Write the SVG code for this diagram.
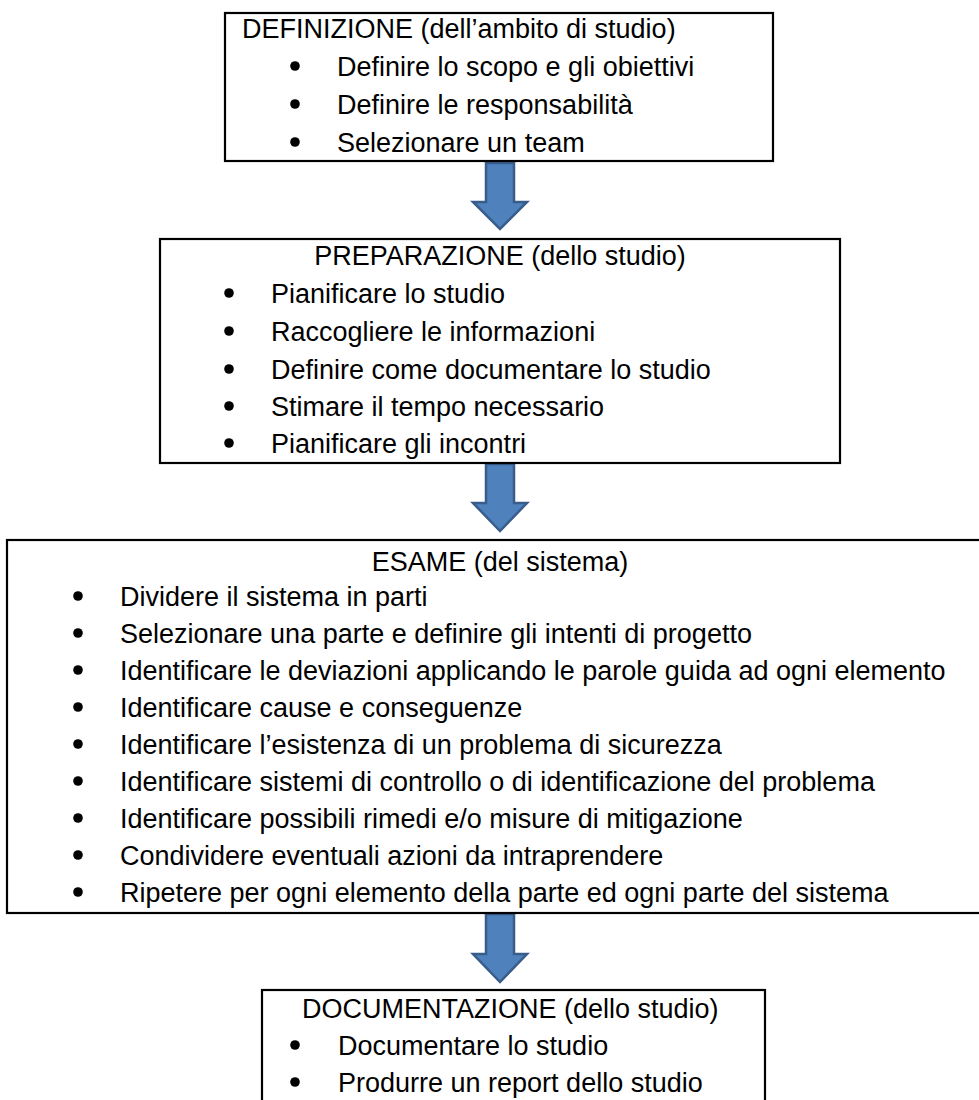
<svg xmlns="http://www.w3.org/2000/svg" width="979" height="1100" viewBox="0 0 979 1100">
<style>
.box{fill:#fff;stroke:#000;stroke-width:2.2}
.t{font-family:"Liberation Sans",Arial,sans-serif;font-size:27px;fill:#000}
.b{fill:#000}
.arr{fill:#4F81BD;stroke:#385D8A;stroke-width:2.5;stroke-linejoin:miter}
</style>
<rect width="979" height="1100" fill="#fff"/>
<g id="connectors">
<polygon class="arr" points="486,163 514,163 514,202 527,202 500,229 473,202 486,202"/>
<polygon class="arr" points="486,464 514,464 514,503 527,503 500,531 473,503 486,503"/>
<polygon class="arr" points="486,914 514,914 514,954 527,954 500,982 473,954 486,954"/>
</g>
<g id="definizione">
<rect class="box" x="225" y="13" width="548" height="148"/>
<text class="t" x="242" y="38">DEFINIZIONE (dell’ambito di studio)</text>
<circle class="b" cx="295" cy="66" r="4.8"/><text class="t" x="337" y="76">Definire lo scopo e gli obiettivi</text>
<circle class="b" cx="295" cy="104" r="4.8"/><text class="t" x="337" y="114">Definire le responsabilità</text>
<circle class="b" cx="295" cy="142" r="4.8"/><text class="t" x="337" y="152">Selezionare un team</text>
</g>
<g id="preparazione">
<rect class="box" x="160" y="239" width="680" height="224"/>
<text class="t" x="500" y="265" text-anchor="middle">PREPARAZIONE (dello studio)</text>
<circle class="b" cx="229" cy="293" r="4.8"/><text class="t" x="271" y="303">Pianificare lo studio</text>
<circle class="b" cx="229" cy="331" r="4.8"/><text class="t" x="271" y="341">Raccogliere le informazioni</text>
<circle class="b" cx="229" cy="369" r="4.8"/><text class="t" x="271" y="379">Definire come documentare lo studio</text>
<circle class="b" cx="229" cy="406" r="4.8"/><text class="t" x="271" y="416">Stimare il tempo necessario</text>
<circle class="b" cx="229" cy="443" r="4.8"/><text class="t" x="271" y="453">Pianificare gli incontri</text>
</g>
<g id="esame">
<rect class="box" x="7" y="540" width="990" height="373"/>
<text class="t" x="500" y="571" text-anchor="middle">ESAME (del sistema)</text>
<circle class="b" cx="78" cy="596" r="4.8"/><text class="t" x="120" y="606">Dividere il sistema in parti</text>
<circle class="b" cx="78" cy="633" r="4.8"/><text class="t" x="120" y="643">Selezionare una parte e definire gli intenti di progetto</text>
<circle class="b" cx="78" cy="670" r="4.8"/><text class="t" x="120" y="680">Identificare le deviazioni applicando le parole guida ad ogni elemento</text>
<circle class="b" cx="78" cy="707" r="4.8"/><text class="t" x="120" y="717">Identificare cause e conseguenze</text>
<circle class="b" cx="78" cy="744" r="4.8"/><text class="t" x="120" y="754">Identificare l’esistenza di un problema di sicurezza</text>
<circle class="b" cx="78" cy="781" r="4.8"/><text class="t" x="120" y="791">Identificare sistemi di controllo o di identificazione del problema</text>
<circle class="b" cx="78" cy="818" r="4.8"/><text class="t" x="120" y="828">Identificare possibili rimedi e/o misure di mitigazione</text>
<circle class="b" cx="78" cy="855" r="4.8"/><text class="t" x="120" y="865">Condividere eventuali azioni da intraprendere</text>
<circle class="b" cx="78" cy="892" r="4.8"/><text class="t" x="120" y="902">Ripetere per ogni elemento della parte ed ogni parte del sistema</text>
</g>
<g id="documentazione">
<rect class="box" x="262" y="990" width="503" height="130"/>
<text class="t" x="302" y="1018">DOCUMENTAZIONE (dello studio)</text>
<circle class="b" cx="295" cy="1045" r="4.8"/><text class="t" x="338" y="1055">Documentare lo studio</text>
<circle class="b" cx="295" cy="1082" r="4.8"/><text class="t" x="338" y="1092">Produrre un report dello studio</text>
</g>
</svg>
